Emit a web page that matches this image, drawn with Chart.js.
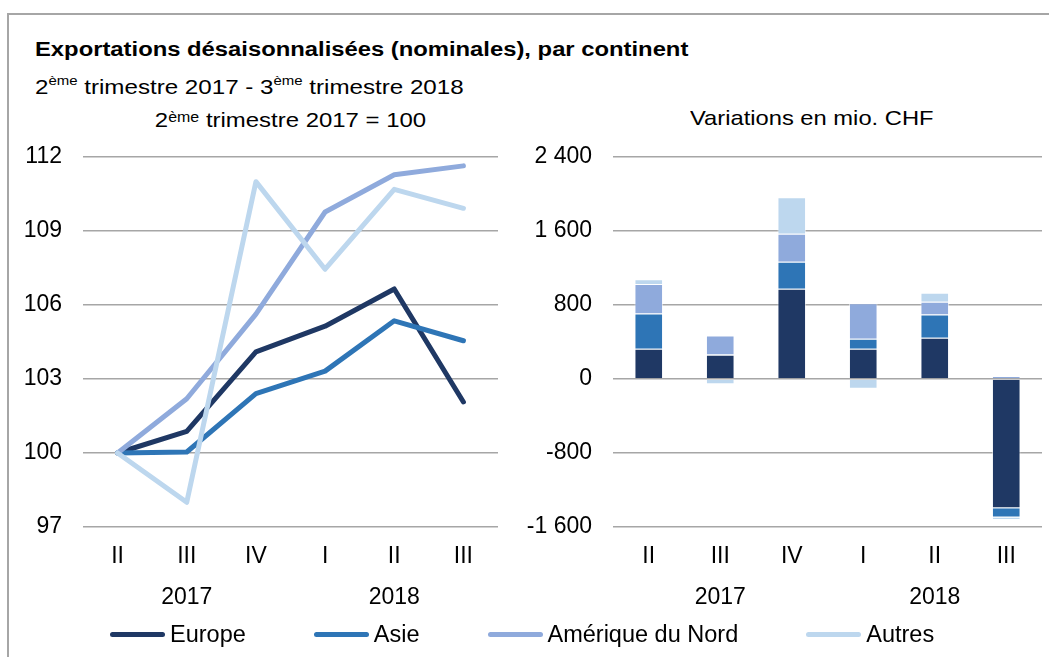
<!DOCTYPE html>
<html>
<head>
<meta charset="utf-8">
<script src="https://cdn.jsdelivr.net/npm/chart.js@4.4.1/dist/chart.umd.min.js"></script>
<style>
    body { margin: 0; background: #fff; }
    #page { position: relative; width: 1049px; height: 657px; overflow: hidden;
            font-family: "Liberation Sans", Arial, sans-serif; color: #000; }
    #frame { position: absolute; left: 7px; top: 13px; right: -10px; bottom: -10px;
             border-top: 2px solid #a6a6a6; border-left: 2px solid #a6a6a6; }
    .txt { position: absolute; white-space: nowrap; }
    #title { left: 35px; top: 37px; font-size: 20px; font-weight: bold; line-height: 24px;
             transform: scaleX(1.19); transform-origin: left center; }
    #subtitle { left: 35px; top: 74px; font-size: 21px; line-height: 26px;
                transform: scaleX(1.15); transform-origin: left center; }
    #subtitle sup { font-size: 13px; vertical-align: 9px; line-height: 0; }
    #base { left: 83px; width: 415px; top: 107px; font-size: 21px; line-height: 26px; text-align: center;
            transform: scaleX(1.14); transform-origin: center center; }
    #base sup { font-size: 14px; vertical-align: 5px; line-height: 0; }
    #unit { left: 690px; top: 105px; font-size: 21px; line-height: 26px;
            transform: scaleX(1.13); transform-origin: left center; }
    canvas { position: absolute; }
    #lineChart { left: 0; top: 130px; }
    #barChart { left: 520px; top: 130px; }
    #legend { position: absolute; left: 110px; top: 621px; display: flex; gap: 68px;
              font-size: 23.5px; line-height: 26px; }
    #legend .item { display: flex; align-items: center; }
    #legend .swatch { width: 55px; height: 5px; border-radius: 3px; margin-right: 5px; }
</style>
</head>
<body>
<div id="page">
    <div id="frame"></div>
    <div class="txt" id="title">Exportations désaisonnalisées (nominales), par continent</div>
    <div class="txt" id="subtitle">2<sup>ème</sup> trimestre 2017 - 3<sup>ème</sup> trimestre 2018</div>
    <div class="txt" id="base">2<sup>ème</sup> trimestre 2017 = 100</div>
    <div class="txt" id="unit">Variations en mio. CHF</div>
    <canvas id="lineChart"></canvas>
    <canvas id="barChart"></canvas>
    <div id="legend"></div>
</div>
<script>
// Données
const quarters = ['II', 'III', 'IV', 'I', 'II', 'III'];
const years = ['2017', '2017', '2017', '2018', '2018', '2018'];
const continents = ['Europe', 'Asie', 'Amérique du Nord', 'Autres'];
const colors = ['#1f3864', '#2e75b6', '#8faadc', '#bdd7ee'];

// Indices (2ème trimestre 2017 = 100)
const indexEurope = [100, 100.88, 104.1, 105.14, 106.65, 102.07];
const indexAsie = [100, 100.04, 102.41, 103.32, 105.36, 104.55];
const indexAmerique = [100, 102.2, 105.63, 109.77, 111.28, 111.64];
const indexAutres = [100, 98.0, 111.0, 107.45, 110.69, 109.92];

// Variations en mio. CHF
const varEurope = [326, 261, 977, 326, 447, -1398];
const varAsie = [383, 4, 290, 108, 249, -98];
const varAmerique = [319, 206, 304, 386, 140, 32];
const varAutres = [51, -58, 395, -106, 97, -29];

const leftTicks = [97, 100, 103, 106, 109, 112];
const rightTicks = [-1600, -800, 0, 800, 1600, 2400];

const FONT = '"Liberation Sans", Arial, sans-serif';
const FONT_SIZE = 23;
const GRID = '#a6a6a6';

// Légende commune
const legendEl = document.getElementById('legend');
continents.forEach((name, i) => {
    const item = document.createElement('div');
    item.className = 'item';
    item.innerHTML = '<span class="swatch" style="background:' + colors[i] + '"></span>' + name;
    legendEl.appendChild(item);
});

// Plugin pour les années sous les trimestres
const yearLabelsPlugin = {
    id: 'yearLabels',
    afterDraw: (chart) => {
        const ctx = chart.ctx;
        const xScale = chart.scales.x;
        const groups = [];
        years.forEach((y, i) => {
            const last = groups[groups.length - 1];
            if (last && last.label === y) last.to = i;
            else groups.push({ label: y, from: i, to: i });
        });
        ctx.save();
        ctx.font = FONT_SIZE + 'px ' + FONT;
        ctx.fillStyle = '#000';
        ctx.textAlign = 'center';
        ctx.textBaseline = 'middle';
        groups.forEach(g => {
            const x = (xScale.getPixelForValue(g.from) + xScale.getPixelForValue(g.to)) / 2;
            ctx.fillText(g.label, x, chart.chartArea.bottom + 71);
        });
        ctx.restore();
    }
};

function xAxis() {
    return {
        offset: true,
        grid: { display: false, drawTicks: false },
        border: { display: false },
        ticks: { color: '#000', font: { size: FONT_SIZE, family: FONT }, padding: 16, maxRotation: 0, autoSkip: false },
        afterFit: (scale) => { scale.height = 103; }
    };
}

// Largeur fixe de l'axe Y, sans marge automatique en haut/bas
function fitY(width) {
    return (scale) => {
        scale.width = width;
        scale.paddingTop = 0;
        scale.paddingBottom = 0;
    };
}

// Diagramme 1 : indices
const lineCanvas = document.getElementById('lineChart');
lineCanvas.width = 510;
lineCanvas.height = 500;
const indexSeries = [indexEurope, indexAsie, indexAmerique, indexAutres];

new Chart(lineCanvas.getContext('2d'), {
    type: 'line',
    data: {
        labels: quarters,
        datasets: indexSeries.map((data, i) => ({
            label: continents[i],
            data: data,
            borderColor: colors[i],
            borderWidth: 5,
            borderCapStyle: 'round',
            borderJoinStyle: 'round',
            pointRadius: 0,
            tension: 0,
            order: 3 - i
        }))
    },
    options: {
        responsive: false,
        animation: false,
        layout: { padding: { top: 27, right: 12, bottom: 0, left: 0 } },
        plugins: { legend: { display: false }, tooltip: { enabled: false } },
        scales: {
            x: xAxis(),
            y: {
                min: leftTicks[0],
                max: leftTicks[leftTicks.length - 1],
                afterBuildTicks: (scale) => { scale.ticks = leftTicks.map(v => ({ value: v })); },
                grid: { color: GRID, lineWidth: 1.5, drawTicks: false },
                border: { display: false },
                ticks: { color: '#000', font: { size: FONT_SIZE, family: FONT }, padding: 21 },
                afterFit: fitY(83)
            }
        }
    },
    plugins: [yearLabelsPlugin]
});

// Diagramme 2 : variations
const barCanvas = document.getElementById('barChart');
barCanvas.width = 529;
barCanvas.height = 500;
const varSeries = [varEurope, varAsie, varAmerique, varAutres];

function formatThousands(v) {
    const s = Math.abs(v).toString().replace(/\B(?=(\d{3})+(?!\d))/g, ' ');
    return (v < 0 ? '-' : '') + s;
}

new Chart(barCanvas.getContext('2d'), {
    type: 'bar',
    data: {
        labels: quarters,
        datasets: varSeries.map((data, i) => ({
            label: continents[i],
            data: data,
            backgroundColor: colors[i],
            borderColor: 'rgba(255,255,255,0.55)',
            borderWidth: 1,
            categoryPercentage: 1,
            barPercentage: 0.4
        }))
    },
    options: {
        responsive: false,
        animation: false,
        layout: { padding: { top: 27, right: 7, bottom: 0, left: 0 } },
        plugins: { legend: { display: false }, tooltip: { enabled: false } },
        scales: {
            x: Object.assign(xAxis(), { stacked: true }),
            y: {
                stacked: true,
                min: rightTicks[0],
                max: rightTicks[rightTicks.length - 1],
                afterBuildTicks: (scale) => { scale.ticks = rightTicks.map(v => ({ value: v })); },
                grid: { color: GRID, lineWidth: 1.5, drawTicks: false },
                border: { display: false },
                ticks: { color: '#000', font: { size: FONT_SIZE, family: FONT }, padding: 21, callback: formatThousands },
                afterFit: fitY(93)
            }
        }
    },
    plugins: [yearLabelsPlugin]
});
</script>
</body>
</html>
